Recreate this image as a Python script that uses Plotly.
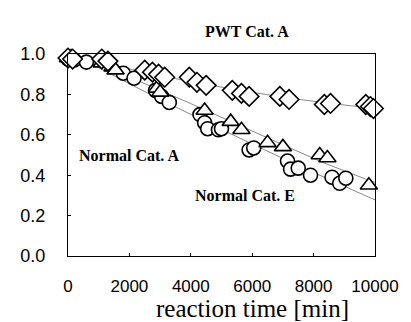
import numpy as np
import plotly.graph_objects as go

# PWT Cat. A (diamonds)
pwt_x = [0, 150, 1100, 1300, 2500, 2750, 2950, 3150, 3950, 4200, 4500, 5350, 5650, 5900, 6900, 7200, 8350, 8550, 9700, 9850, 9950]
pwt_y = [0.98, 0.975, 0.975, 0.965, 0.92, 0.91, 0.90, 0.885, 0.885, 0.86, 0.845, 0.82, 0.805, 0.79, 0.79, 0.775, 0.75, 0.755, 0.75, 0.74, 0.73]

# Normal Cat. E (triangles)
tri_x = [0, 100, 1100, 1450, 1550, 2900, 3000, 4450, 5300, 5650, 6500, 7000, 8200, 8450, 9800]
tri_y = [0.98, 0.985, 0.955, 0.935, 0.92, 0.83, 0.81, 0.72, 0.665, 0.625, 0.56, 0.54, 0.50, 0.485, 0.35]

# Normal Cat. A (circles)
cir_x = [0, 200, 600, 1800, 2150, 2850, 3050, 3300, 4300, 4450, 4550, 4900, 5000, 5900, 6050, 7150, 7250, 7500, 7900, 8600, 8850, 9050]
cir_y = [0.975, 0.97, 0.96, 0.905, 0.88, 0.82, 0.79, 0.76, 0.70, 0.66, 0.63, 0.625, 0.63, 0.525, 0.535, 0.47, 0.43, 0.435, 0.40, 0.39, 0.36, 0.385]

x_ticks = [0, 2000, 4000, 6000, 8000, 10000]
y_ticks = [0.0, 0.2, 0.4, 0.6, 0.8, 1.0]
y_tick_text = ["0.0", "0.2", "0.4", "0.6", "0.8", "1.0"]
x_title = "reaction time [min]"

fig = go.Figure()

def trend(xs, ys, deg):
    c = np.polyfit(xs, ys, deg)
    xx = np.linspace(0, 10000, 101)
    return xx, np.polyval(c, xx)

for xs, ys, deg in [(pwt_x, pwt_y, 2), (tri_x, tri_y, 3), (cir_x, cir_y, 2)]:
    tx, ty = trend(xs, ys, deg)
    fig.add_trace(go.Scatter(x=tx, y=ty, mode="lines",
                             line=dict(color="#8a8a8a", width=1),
                             hoverinfo="skip", showlegend=False))

mk = dict(color="white", line=dict(color="black", width=1.6))
fig.add_trace(go.Scatter(x=cir_x, y=cir_y, mode="markers", cliponaxis=False,
                         marker=dict(symbol="circle", size=14, **mk), name="Normal Cat. A"))
fig.add_trace(go.Scatter(x=tri_x, y=tri_y, mode="markers", cliponaxis=False,
                         marker=dict(symbol="triangle-up", size=15, **mk), name="Normal Cat. E"))
fig.add_trace(go.Scatter(x=pwt_x, y=pwt_y, mode="markers", cliponaxis=False,
                         marker=dict(symbol="diamond", size=15, **mk), name="PWT Cat. A"))

ann_font = dict(family="Liberation Serif, Times New Roman, serif", size=16, color="black")
fig.add_annotation(xref="paper", yref="paper", x=0.584, y=1.163, text="<b>PWT Cat. A</b>",
                   showarrow=False, font=ann_font)
fig.add_annotation(x=2000, y=0.50, text="<b>Normal Cat. A</b>", showarrow=False, font=ann_font)
fig.add_annotation(x=5780, y=0.30, text="<b>Normal Cat. E</b>", showarrow=False, font=ann_font)
fig.add_annotation(xref="paper", yref="paper", x=0.60, y=-0.262, yanchor="middle",
                   text=x_title, showarrow=False,
                   font=dict(family="Liberation Serif, Times New Roman, serif", size=25, color="black"))

# page body adds an 8px offset; figure is sized to fill the rest of the window
fig.update_layout(
    width=403, height=314,
    margin=dict(l=55, r=26, t=46, b=66),
    paper_bgcolor="white", plot_bgcolor="white",
    showlegend=False,
    font=dict(family="Liberation Sans, Arial, sans-serif", size=17, color="black"),
)
fig.update_xaxes(range=[0, 10000], tickvals=x_ticks, ticktext=[str(v) for v in x_ticks],
                 showgrid=False, zeroline=False, showline=True, linecolor="black", linewidth=1.2,
                 mirror=True, ticks="inside", ticklen=3, tickcolor="black",
                 tickfont=dict(size=17), ticklabelstandoff=14)
fig.update_yaxes(range=[0, 1], tickvals=y_ticks, ticktext=y_tick_text,
                 showgrid=False, zeroline=False, showline=True, linecolor="black", linewidth=1.2,
                 mirror=True, ticks="inside", ticklen=3, tickcolor="black",
                 tickfont=dict(size=18), ticklabelstandoff=18)

fig.write_html("out.html")
